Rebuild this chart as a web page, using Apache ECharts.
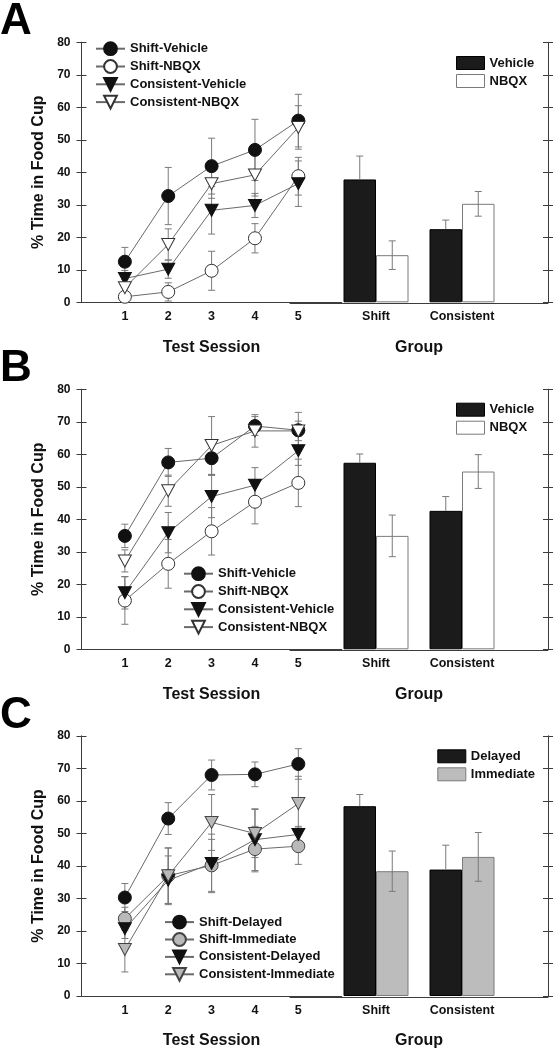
<!DOCTYPE html>
<html><head><meta charset="utf-8">
<script src="https://cdn.jsdelivr.net/npm/echarts@6/dist/echarts.min.js"></script>
<style>html,body{margin:0;padding:0;background:#fff}#c{width:554px;height:1050px}</style>
</head><body><div id="c"></div>
<script>
// ---------------- DATA ----------------
const sessions = ['1', '2', '3', '4', '5'];
const groups = ['Shift', 'Consistent'];
const yTickLabels = ['0', '10', '20', '30', '40', '50', '60', '70', '80'];
const panelLetters = ['A', 'B', 'C'];

const lineNamesAB = ['Shift-Vehicle', 'Shift-NBQX', 'Consistent-Vehicle', 'Consistent-NBQX'];
const lineNamesC = ['Shift-Delayed', 'Shift-Immediate', 'Consistent-Delayed', 'Consistent-Immediate'];
const barNamesAB = ['Vehicle', 'NBQX'];
const barNamesC = ['Delayed', 'Immediate'];

// Panel A – line means / SEM per session
const aShiftVehicle = [12.5, 32.7, 41.9, 46.9, 55.9];
const aShiftVehicleSem = [4.4, 8.8, 8.6, 9.4, 8.1];
const aShiftNBQX = [1.7, 3.2, 9.7, 19.7, 38.8];
const aShiftNBQXSem = [1.5, 2.8, 6.0, 4.5, 5.8];
const aConsVehicle = [7.3, 10.2, 28.3, 29.8, 36.5];
const aConsVehicleSem = [2.5, 2.8, 7.3, 3.7, 7.0];
const aConsNBQX = [4.5, 17.8, 36.5, 39.2, 53.8];
const aConsNBQXSem = [2.5, 4.8, 4.5, 6.5, 6.7];
// Panel A – bars (Shift, Consistent)
const aBarVehicle = [37.8, 22.5];
const aBarVehicleSem = [7.2, 2.8];
const aBarNBQX = [14.5, 30.3];
const aBarNBQXSem = [4.4, 3.8];

// Panel B
const bShiftVehicle = [34.9, 57.5, 58.8, 68.7, 67.4];
const bShiftVehicleSem = [3.6, 4.3, 5.0, 2.9, 5.5];
const bShiftNBQX = [15.0, 26.3, 36.3, 45.4, 51.2];
const bShiftNBQXSem = [7.3, 7.5, 7.3, 6.8, 7.3];
const bConsVehicle = [17.4, 35.9, 47.0, 50.5, 61.1];
const bConsVehicleSem = [5.0, 6.2, 6.5, 5.4, 4.5];
const bConsNBQX = [27.2, 48.8, 62.7, 67.2, 67.2];
const bConsNBQXSem = [3.4, 4.8, 8.9, 5.0, 3.0];
const bBarVehicle = [57.4, 42.6];
const bBarVehicleSem = [2.7, 4.4];
const bBarNBQX = [34.9, 54.7];
const bBarNBQXSem = [6.4, 5.2];

// Panel C
const cShiftDelayed = [30.3, 54.6, 68.0, 68.2, 71.4];
const cShiftDelayedSem = [4.3, 4.9, 4.6, 3.8, 4.7];
const cShiftImmediate = [23.8, 37.0, 40.2, 45.2, 46.1];
const cShiftImmediateSem = [3.5, 8.5, 8.0, 7.0, 5.6];
const cConsDelayed = [20.7, 35.6, 40.8, 48.1, 49.7];
const cConsDelayedSem = [3.0, 7.5, 9.0, 9.5, 2.5];
const cConsImmediate = [14.3, 37.0, 53.4, 50.0, 59.2];
const cConsImmediateSem = [6.9, 8.6, 8.6, 7.4, 8.4];
const cBarDelayed = [58.4, 38.9];
const cBarDelayedSem = [3.6, 7.5];
const cBarImmediate = [38.4, 42.8];
const cBarImmediateSem = [6.2, 7.5];

// ---------------- STYLE / LAYOUT ----------------
const FONT = 'Liberation Sans, Arial, Helvetica, sans-serif';
const AXIS = '#3c3c3c';
const ERR = '#7a7a7a';
const LINE = '#6a6a6a';
const TRI = 'path://M0,0L20,0L10,18Z';
const BAR_W = 32.5;
const CAP = 3.5;
const PANEL_TOPS = [42.3, 389.3, 736];
const PLOT_H = 260;

const panels = [
  { lineNames: lineNamesAB, barNames: barNamesAB,
    lines: [aShiftVehicle, aShiftNBQX, aConsVehicle, aConsNBQX],
    sems: [aShiftVehicleSem, aShiftNBQXSem, aConsVehicleSem, aConsNBQXSem],
    bars: [aBarVehicle, aBarNBQX], barSems: [aBarVehicleSem, aBarNBQXSem],
    lineLegend: { left: 95, top: 41.3, gap: 3 }, barLegend: { left: 456, top: 56 }, alt: false },
  { lineNames: lineNamesAB, barNames: barNamesAB,
    lines: [bShiftVehicle, bShiftNBQX, bConsVehicle, bConsNBQX],
    sems: [bShiftVehicleSem, bShiftNBQXSem, bConsVehicleSem, bConsNBQXSem],
    bars: [bBarVehicle, bBarNBQX], barSems: [bBarVehicleSem, bBarNBQXSem],
    lineLegend: { left: 183, top: 566.3, gap: 3 }, barLegend: { left: 456, top: 402.7 }, alt: false },
  { lineNames: lineNamesC, barNames: barNamesC,
    lines: [cShiftDelayed, cShiftImmediate, cConsDelayed, cConsImmediate],
    sems: [cShiftDelayedSem, cShiftImmediateSem, cConsDelayedSem, cConsImmediateSem],
    bars: [cBarDelayed, cBarImmediate], barSems: [cBarDelayedSem, cBarImmediateSem],
    lineLegend: { left: 164, top: 914.7, gap: 2.6 }, barLegend: { left: 437.3, top: 749.3 }, alt: true }
];

function markerStyles(alt) {
  const second = alt ? { fill: '#b9b9b9', stroke: '#444' } : { fill: '#ffffff', stroke: '#333' };
  return [
    { symbol: 'circle', size: 13, fill: '#111', stroke: '#111' },
    { symbol: 'circle', size: 13, fill: second.fill, stroke: second.stroke },
    { symbol: TRI, size: [13, 12], fill: '#111', stroke: '#111' },
    { symbol: TRI, size: [13, 12], fill: second.fill, stroke: second.stroke }
  ];
}
function barStyles(alt) {
  return [
    { color: '#1b1b1b', borderColor: '#000' },
    alt ? { color: '#bcbcbc', borderColor: '#7a7a7a' } : { color: '#ffffff', borderColor: '#7a7a7a' }
  ];
}

function errRender(offset, upOnly) {
  return function (params, api) {
    const x = api.value(0), m = api.value(1), e = api.value(2);
    const c = api.coord([x, m]);
    const t = api.coord([x, m + e]);
    const b = api.coord([x, Math.max(0, m - e)]);
    const cx = c[0] + offset;
    const st = { stroke: ERR, lineWidth: 1 };
    const kids = [
      { type: 'line', shape: { x1: cx, y1: t[1], x2: cx, y2: upOnly ? c[1] : b[1] }, style: st },
      { type: 'line', shape: { x1: cx - CAP, y1: t[1], x2: cx + CAP, y2: t[1] }, style: st }
    ];
    if (!upOnly) kids.push({ type: 'line', shape: { x1: cx - CAP, y1: b[1], x2: cx + CAP, y2: b[1] }, style: st });
    return { type: 'group', children: kids };
  };
}

const grid = [], xAxis = [], yAxis = [], series = [], legend = [], graphic = [];
const boldText = (size) => ({ color: '#111', fontWeight: 'bold', fontFamily: FONT, fontSize: size });
const axisLineStyle = { color: AXIS, width: 1 };

panels.forEach((p, pi) => {
  const top = PANEL_TOPS[pi];
  const gL = 2 * pi, gB = 2 * pi + 1;
  grid.push({ left: 81.5, top: top, width: 260.2, height: PLOT_H, outerBoundsMode: 'none' });
  grid.push({ left: 290, top: top, width: 258, height: PLOT_H, outerBoundsMode: 'none' });

  xAxis.push({
    type: 'value', gridIndex: gL, min: 0, max: 6, interval: 1,
    axisLine: { show: true, onZero: false, lineStyle: axisLineStyle },
    axisTick: { show: false }, splitLine: { show: false },
    axisLabel: Object.assign({ margin: 8, formatter: v => (sessions[v - 1] !== undefined ? sessions[v - 1] : '') }, boldText(12.5)),
    name: 'Test Session', nameLocation: 'middle', nameGap: 37, nameTextStyle: boldText(16)
  });
  xAxis.push({
    type: 'category', gridIndex: gB, data: [''].concat(groups).concat([' ']), boundaryGap: false,
    offset: 1,
    axisLine: { show: true, onZero: false, lineStyle: axisLineStyle },
    axisTick: { show: false }, splitLine: { show: false },
    axisLabel: Object.assign({ margin: 7, interval: 0 }, boldText(12.5)),
    name: 'Group', nameLocation: 'middle', nameGap: 36, nameTextStyle: boldText(16)
  });

  const yBase = { type: 'value', min: 0, max: 80, interval: 10, splitLine: { show: false },
    axisLine: { show: true, onZero: false, lineStyle: axisLineStyle } };
  yAxis.push(Object.assign({}, yBase, {
    gridIndex: gL, position: 'left',
    axisTick: { show: true, length: 5, lineStyle: axisLineStyle },
    axisLabel: Object.assign({ margin: 11, formatter: v => yTickLabels[v / 10] }, boldText(12)),
    name: '% Time in Food Cup', nameLocation: 'middle', nameRotate: 90, nameGap: 35, nameTextStyle: boldText(16)
  }));
  yAxis.push(Object.assign({}, yBase, {
    gridIndex: gL, position: 'left',
    axisTick: { show: true, inside: true, length: 5, lineStyle: axisLineStyle },
    axisLabel: { show: false }
  }));
  yAxis.push(Object.assign({}, yBase, {
    gridIndex: gB, position: 'right',
    axisTick: { show: true, length: 5, lineStyle: axisLineStyle },
    axisLabel: { show: false }
  }));
  yAxis.push(Object.assign({}, yBase, {
    gridIndex: gB, position: 'right',
    axisTick: { show: true, inside: true, length: 5, lineStyle: axisLineStyle },
    axisLabel: { show: false }
  }));

  const ms = markerStyles(p.alt);
  const errRows = [];
  p.lines.forEach((vals, si) => {
    const m = ms[si];
    series.push({
      type: 'line', name: p.lineNames[si], xAxisIndex: gL, yAxisIndex: 4 * pi,
      data: sessions.map((s, i) => [Number(s), vals[i]]),
      symbol: m.symbol, symbolSize: m.size,
      itemStyle: { color: m.fill, borderColor: m.stroke, borderWidth: 1 },
      lineStyle: { color: LINE, width: 1 },
      z: 3, animation: false
    });
    sessions.forEach((s, i) => errRows.push([Number(s), vals[i], p.sems[si][i]]));
  });
  series.push({
    type: 'custom', xAxisIndex: gL, yAxisIndex: 4 * pi, data: errRows,
    encode: { x: 0, y: 1 }, renderItem: errRender(0, false), z: 2, silent: true, animation: false
  });

  const bs = barStyles(p.alt);
  p.bars.forEach((vals, bi) => {
    series.push({
      type: 'bar', name: p.barNames[bi], xAxisIndex: gB, yAxisIndex: 4 * pi + 2,
      data: ['-'].concat(vals), barWidth: BAR_W, barGap: '0%',
      itemStyle: { color: bs[bi].color, borderColor: bs[bi].borderColor, borderWidth: 1 },
      z: 2, animation: false
    });
    series.push({
      type: 'custom', xAxisIndex: gB, yAxisIndex: 4 * pi + 2,
      data: groups.map((g, i) => [i + 1, vals[i], p.barSems[bi][i]]),
      encode: { x: 0, y: 1 },
      renderItem: errRender(bi === 0 ? -BAR_W / 2 : BAR_W / 2, bi === 0),
      z: 4, silent: true, animation: false
    });
  });

  legend.push({
    orient: 'vertical', left: p.lineLegend.left, top: p.lineLegend.top, padding: 0,
    itemWidth: 29, itemHeight: 16, itemGap: p.lineLegend.gap, selectedMode: false,
    data: p.lineNames, textStyle: boldText(13)
  });
  legend.push({
    orient: 'vertical', left: p.barLegend.left, top: p.barLegend.top, padding: 0,
    itemWidth: 28, itemHeight: 13, itemGap: 4, selectedMode: false, icon: 'rect',
    data: p.barNames.map((n, bi) => ({ name: n, itemStyle: { color: bs[bi].color, borderColor: bs[bi].borderColor, borderWidth: 1 } })),
    textStyle: boldText(13)
  });

  graphic.push({
    type: 'text', left: 0, top: top - 42.5,
    style: { text: panelLetters[pi], fontSize: 44, fontWeight: 'bold', fontFamily: FONT, fill: '#000' }
  });
});

const chart = echarts.init(document.getElementById('c'), null, { renderer: 'canvas' });
chart.setOption({ animation: false, backgroundColor: '#fff', grid, xAxis, yAxis, series, legend, graphic });
</script>
</body></html>
